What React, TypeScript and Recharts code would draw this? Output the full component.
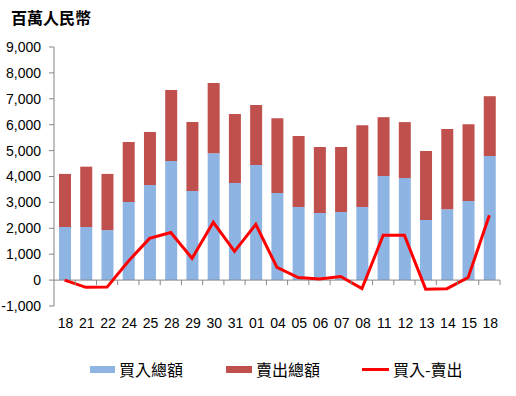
import React from "react"
import { ComposedChart, Bar, Line, XAxis, YAxis, ReferenceLine } from "recharts"

document.body.style.margin = "0"

const dates = ["18", "21", "22", "24", "25", "28", "29", "30", "31", "01", "04", "05", "06", "07", "08", "11", "12", "13", "14", "15", "18"]
const buyTotal = [2050, 2050, 1930, 3020, 3670, 4600, 3440, 4900, 3750, 4440, 3360, 2820, 2590, 2630, 2820, 4020, 3940, 2320, 2740, 3050, 4790]
const sellTotal = [2050, 2330, 2170, 2310, 2050, 2740, 2660, 2710, 2660, 2320, 2890, 2740, 2550, 2510, 3160, 2270, 2160, 2660, 3090, 2970, 2310]
const netFlow = [0, -280, -270, 730, 1610, 1840, 840, 2230, 1110, 2150, 490, 100, 40, 140, -330, 1730, 1730, -350, -330, 100, 2500]
const yTicks = [-1000, 0, 1000, 2000, 3000, 4000, 5000, 6000, 7000, 8000, 9000]

const W = 516
const H = 396
const margin = { top: 47, right: 16, bottom: 60, left: 0 }
const yAxisWidth = 54
const xAxisHeight = 30
const plotW = W - margin.left - margin.right - yAxisWidth
const plotH = H - margin.top - margin.bottom - xAxisHeight
const band = plotW / dates.length
const zeroOffset = (plotH * (0 - yTicks[0])) / (yTicks[yTicks.length - 1] - yTicks[0])

const AXIS = "#868686"
const FONT = "Arial, 'Liberation Sans', 'Noto Sans CJK TC', sans-serif"

const data = dates.map((d, i) => ({
  i,
  date: d,
  buy: buyTotal[i],
  sell: sellTotal[i],
  net: netFlow[i],
}))

// tick marks sit on the zero line, between categories
function DateTick(props: any) {
  const { x, y, payload } = props
  const zy = y - zeroOffset
  return (
    <g>
      <line x1={x + band / 2} x2={x + band / 2} y1={zy} y2={zy + 5} stroke={AXIS} />
      <text x={x + 1} y={y + 22} textAnchor="middle" fontSize={14} fontFamily={FONT} fill="#000">
        {dates[payload.value]}
      </text>
    </g>
  )
}

function LegendRow() {
  const item = (marker: React.ReactNode, label: string, gap: number) => (
    <div style={{ display: "flex", alignItems: "center", marginRight: gap }}>
      {marker}
      <span style={{ marginLeft: 4 }}>{label}</span>
    </div>
  )
  return (
    <div
      style={{
        position: "absolute",
        left: 90,
        top: 360,
        display: "flex",
        fontSize: 16,
        lineHeight: "18px",
        fontFamily: "'Noto Sans CJK TC', sans-serif",
        color: "#000",
      }}
    >
      {item(<div style={{ width: 25, height: 7, background: "#8EB4E3" }} />, "買入總額", 43)}
      {item(<div style={{ width: 26, height: 7, background: "#C0504D" }} />, "賣出總額", 42)}
      {item(<div style={{ width: 27, height: 3, background: "#FF0000" }} />, "買入-賣出", 0)}
    </div>
  )
}

export default function App() {
  return (
    <div style={{ position: "relative", width: W, height: H, background: "#fff" }}>
      <div
        style={{
          position: "absolute",
          left: 11,
          top: 7,
          fontSize: 16,
          fontWeight: "bold",
          fontFamily: "'Noto Sans CJK TC', sans-serif",
          lineHeight: "20px",
        }}
      >
        百萬人民幣
      </div>
      <ComposedChart width={W} height={H} data={data} margin={margin} barCategoryGap="43%">
        <XAxis
          dataKey="i"
          type="category"
          height={xAxisHeight}
          axisLine={false}
          tickLine={false}
          tickSize={0}
          tickMargin={0}
          interval={0}
          tick={<DateTick />}
        />
        <YAxis
          width={yAxisWidth}
          domain={[-1000, 9000]}
          ticks={yTicks}
          interval={0}
          stroke={AXIS}
          tickSize={5}
          tickMargin={8}
          tick={{ fill: "#000", fontSize: 14, fontFamily: FONT }}
          tickFormatter={(v: number) => v.toLocaleString("en-US")}
        />
        <ReferenceLine y={0} stroke={AXIS} />
        <Bar dataKey="buy" stackId="a" fill="#8EB4E3" barSize={12} isAnimationActive={false} />
        <Bar dataKey="sell" stackId="a" fill="#C0504D" barSize={12} isAnimationActive={false} />
        <Line
          dataKey="net"
          type="linear"
          stroke="#FF0000"
          strokeWidth={3}
          dot={false}
          isAnimationActive={false}
        />
      </ComposedChart>
      <LegendRow />
    </div>
  )
}
